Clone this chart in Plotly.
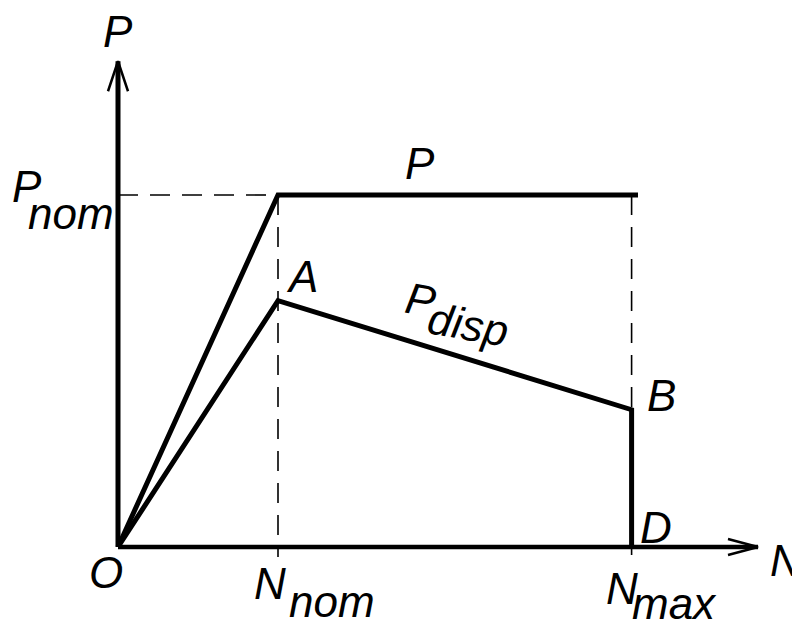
import plotly.graph_objects as go

# ---- data (diagram units: N in units of N_nom, P in units of P_nom) ----
N_nom = 1.0
N_max = 3.21
P_nom = 1.0
P_A = 0.70
P_B = 0.39
P_line_end = 3.25
x_axis_end = 4.0
y_axis_end = 1.38

curve_P_x = [0, N_nom, P_line_end]
curve_P_y = [0, P_nom, P_nom]
curve_disp_x = [0, N_nom, N_max, N_max]
curve_disp_y = [0, P_A, P_B, 0]

# page has an 8px body margin; figure fills the rest of the 800x627 window
PAGE_OFF = 8
W, H = 800 - 2 * PAGE_OFF, 627 - 2 * PAGE_OFF
ox, oy = 118 - PAGE_OFF, 547 - PAGE_OFF   # origin in figure pixels
sx, sy = 160.0, 352.0
xr = [-ox / sx, (W - ox) / sx]
yr = [-(H - oy) / sy, oy / sy]
px = lambda d: d / sx
py = lambda d: d / sy

fig = go.Figure()
thick = dict(color="black", width=5)
dash = dict(color="black", width=1.6, dash="20px,12px")

# axes
fig.add_trace(go.Scatter(x=[0, 0], y=[0, y_axis_end], mode="lines", line=dict(color="black", width=5)))
fig.add_trace(go.Scatter(x=[0, x_axis_end], y=[0, 0], mode="lines", line=dict(color="black", width=4.5)))
# arrowheads (open V)
fig.add_trace(go.Scatter(x=[-px(10), 0, px(10)], y=[y_axis_end - py(30), y_axis_end, y_axis_end - py(30)],
                         mode="lines", line=dict(color="black", width=2.5)))
fig.add_trace(go.Scatter(x=[x_axis_end - px(30), x_axis_end, x_axis_end - px(30)], y=[py(8), 0, -py(8)],
                         mode="lines", line=dict(color="black", width=2.5)))

# dashed guides
fig.add_trace(go.Scatter(x=[0, N_nom], y=[P_nom, P_nom], mode="lines", line=dash))
fig.add_trace(go.Scatter(x=[N_nom, N_nom], y=[P_nom, -py(10)], mode="lines", line=dash))
fig.add_trace(go.Scatter(x=[N_max, N_max], y=[P_nom, P_B], mode="lines", line=dash))
fig.add_trace(go.Scatter(x=[N_max, N_max], y=[0, -py(8)], mode="lines", line=dict(color="black", width=1.6)))

# curves
fig.add_trace(go.Scatter(x=curve_P_x, y=curve_P_y, mode="lines", line=thick))
fig.add_trace(go.Scatter(x=curve_disp_x, y=curve_disp_y, mode="lines", line=thick))

FONT = "Liberation Sans, Arial, sans-serif"


def label(text, xpage, ypage, size=44, angle=0):
    xf, yf = xpage - PAGE_OFF, ypage - PAGE_OFF
    fig.add_annotation(x=(xf - ox) / sx, y=(oy - yf) / sy, text="<i>%s</i>" % text,
                       showarrow=False, textangle=angle,
                       font=dict(family=FONT, size=size, color="black"),
                       xanchor="center", yanchor="middle")


label("P", 118, 31)
label("P", 420, 163)
label("P", 27, 186)
label("nom", 71, 213)
label("A", 302, 276)
label("P", 421, 299, angle=10)
label("disp", 468, 324, angle=10)
label("B", 661, 395)
label("D", 656, 527)
label("N", 786, 560)
label("O", 106, 572)
label("N", 270, 583)
label("nom", 332, 601)
label("N", 622, 588)
label("max", 674, 603)

fig.update_layout(width=W, height=H, margin=dict(l=0, r=0, t=0, b=0),
                  plot_bgcolor="white", paper_bgcolor="white", showlegend=False,
                  xaxis=dict(range=xr, visible=False, fixedrange=True),
                  yaxis=dict(range=yr, visible=False, fixedrange=True))
fig.write_html("out.html")
